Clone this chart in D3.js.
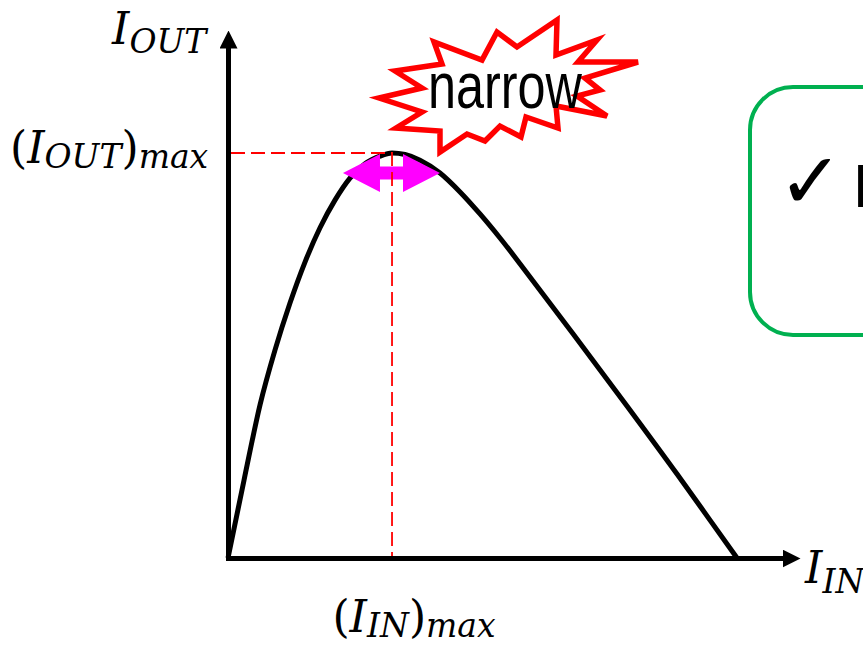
<!DOCTYPE html>
<meta charset="utf-8">
<style>
    body { margin: 0; background: #fff; }
    .math { font-family: "DejaVu Serif", serif; font-style: italic; fill: #000; }
    .math .up { font-style: normal; }
    .axis .domain { stroke: #000; stroke-width: 5; stroke-linecap: square; }
</style>
<svg width="863" height="647"></svg>
<script src="https://d3js.org/d3.v7.min.js"></script>
<script>

    // curve (axis units 0-100)
    var iIn  = [0, 2.88, 5.76, 8.45, 11.15, 13.85, 16.55, 19.24, 21.94, 24.64, 27.34, 29.50,
                31.83, 34.53, 38.13, 41.73, 45.32, 48.92, 54.86, 62.05, 71.76, 80.76, 86.69, 91.55];
    var iOut = [0, 15.2, 29.9, 40.6, 49.8, 57.8, 64.5, 69.9, 74.2, 77.0, 78.5, 79.1,
                78.8, 77.7, 75.2, 71.5, 67.2, 62.5, 54.1, 43.8, 29.7, 16.4, 7.4, 0];

    var peakIn = 29.5,
        peakOut = 79.1;

    // the "narrow" double arrow at the top of the curve
    var narrowIn = [20.68, 38.13],
        narrowOut = 75.2;

    var svg = d3.select("svg");

    var x = d3.scaleLinear().domain([0, 100]).range([228, 784]),
        y = d3.scaleLinear().domain([0, 100]).range([558, 46]);

    var points = iIn.map(function(d, i) { return [d, iOut[i]]; });

    // arrow heads for the axes
    svg.append("defs").append("marker")
        .attr("id", "head")
        .attr("markerUnits", "userSpaceOnUse")
        .attr("viewBox", "0 0 18 18")
        .attr("markerWidth", 18)
        .attr("markerHeight", 18)
        .attr("refX", 2)
        .attr("refY", 9)
        .attr("orient", "auto")
        .append("path")
        .attr("d", "M0,0L18,9L0,18Z")
        .attr("fill", "#000");

    // green box on the right (runs off the page)
    svg.append("rect")
        .attr("x", 750).attr("y", 87)
        .attr("width", 300).attr("height", 248)
        .attr("rx", 43)
        .attr("fill", "none")
        .attr("stroke", "#00b050")
        .attr("stroke-width", 4);

    svg.append("text")
        .attr("x", 778).attr("y", 208)
        .style("font-family", "DejaVu Sans")
        .style("font-weight", "bold")
        .style("font-size", "78px")
        .text("\u2713");

    svg.append("text")
        .attr("x", 853).attr("y", 207)
        .style("font-family", "Liberation Sans")
        .style("font-size", "62px")
        .text("Peak");

    // axes
    svg.append("g")
        .attr("class", "axis")
        .attr("transform", "translate(0," + y(0) + ")")
        .call(d3.axisBottom(x).tickValues([]).tickSizeOuter(0))
        .select(".domain").attr("marker-end", "url(#head)");

    svg.append("g")
        .attr("class", "axis")
        .attr("transform", "translate(" + x(0) + ",0)")
        .call(d3.axisLeft(y).tickValues([]).tickSizeOuter(0))
        .select(".domain").attr("marker-end", "url(#head)");

    // curve
    var line = d3.line()
        .x(function(d) { return x(d[0]); })
        .y(function(d) { return y(d[1]); })
        .curve(d3.curveMonotoneX);

    svg.append("path")
        .datum(points)
        .attr("d", line)
        .attr("fill", "none")
        .attr("stroke", "#000")
        .attr("stroke-width", 5)
        .attr("stroke-linejoin", "round");

    // magenta double arrow
    var x1 = x(narrowIn[0]), x2 = x(narrowIn[1]), cy = y(narrowOut),
        hl = 37, hw = 19, sw = 6.5;
    svg.append("path")
        .attr("d", "M" + x1 + "," + cy +
            "L" + (x1 + hl) + "," + (cy - hw) + "L" + (x1 + hl) + "," + (cy - sw) +
            "L" + (x2 - hl) + "," + (cy - sw) + "L" + (x2 - hl) + "," + (cy - hw) +
            "L" + x2 + "," + cy +
            "L" + (x2 - hl) + "," + (cy + hw) + "L" + (x2 - hl) + "," + (cy + sw) +
            "L" + (x1 + hl) + "," + (cy + sw) + "L" + (x1 + hl) + "," + (cy + hw) + "Z")
        .attr("fill", "#ff00ff");

    // dashed guides to the peak
    svg.append("path")
        .attr("d", "M" + (x(0) + 3) + "," + y(peakOut) + "H" + x(peakIn) + "V" + (y(0) - 2))
        .attr("fill", "none")
        .attr("stroke", "#ff0000")
        .attr("stroke-width", 1.8)
        .attr("stroke-dasharray", "14,6");

    // starburst callout
    var burst = [[395, 71], [442, 64], [434, 42], [482, 60], [497, 32], [517, 47], [557, 20],
                 [556, 55], [597, 40], [578, 62], [638, 62], [585, 78], [600, 90], [577, 96],
                 [607, 116], [556, 106], [558, 128], [526, 117], [521, 137], [500, 126],
                 [485, 141], [467, 134], [440, 152], [440, 131], [396, 128], [422, 112],
                 [379, 98], [422, 88]];
    svg.append("path")
        .attr("d", "M" + burst.join("L") + "Z")
        .attr("fill", "none")
        .attr("stroke", "#ff0000")
        .attr("stroke-width", 5.5)
        .attr("stroke-linejoin", "miter");

    svg.append("text")
        .attr("x", 428).attr("y", 108)
        .attr("textLength", 154)
        .attr("lengthAdjust", "spacingAndGlyphs")
        .style("font-family", "Liberation Sans")
        .style("font-size", "64px")
        .text("narrow");

    // math labels
    function mathLabel(px, py, parts, anchor) {
        var t = svg.append("text").attr("class", "math")
            .attr("x", px).attr("y", py)
            .attr("text-anchor", anchor || "start");
        parts.forEach(function(p) {
            t.append("tspan")
                .attr("class", p.up ? "up" : null)
                .attr("dy", p.dy || 0)
                .style("font-size", (p.sub ? 33 : 44) + "px")
                .text(p.t);
        });
        return t;
    }

    mathLabel(112, 44, [{t: "I"}, {t: "OUT", sub: true, dy: 9}]);

    mathLabel(10, 163, [{t: "(", up: true}, {t: "I"}, {t: "OUT", sub: true, dy: 5},
        {t: ")", up: true, dy: -5}, {t: "max", sub: true, dy: 5}]);

    mathLabel(x(peakIn) + 22, 632, [{t: "(", up: true}, {t: "I"}, {t: "IN", sub: true, dy: 5},
        {t: ")", up: true, dy: -5}, {t: "max", sub: true, dy: 5}], "middle");

    mathLabel(805, 583, [{t: "I"}, {t: "IN", sub: true, dy: 10}]);
</script>
